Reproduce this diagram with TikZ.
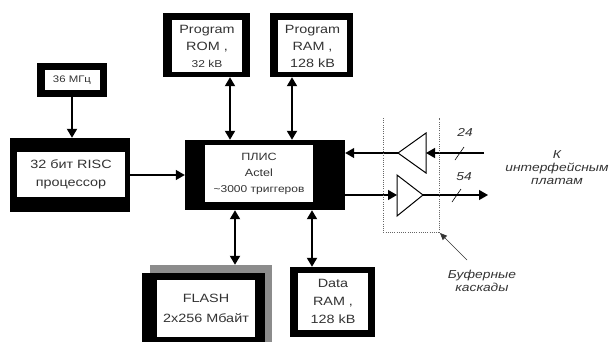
\documentclass[tikz,border=0pt]{standalone}
\usepackage{fontspec}
\setmainfont{Liberation Sans}[FakeStretch=1.2]
\usetikzlibrary{arrows.meta,calc}
\begin{document}
\begin{tikzpicture}[x=1pt,y=-1pt,
  outer/.style={fill=black,draw=none,inner sep=0pt,minimum width=#1},
  inner/.style={fill=white,draw=none,inner sep=0pt,align=center,text=black!80},
  conn/.style={line width=1.8pt,-{Triangle[length=9pt,width=10pt]}},
  dconn/.style={line width=1.8pt,{Triangle[length=9pt,width=10pt]}-{Triangle[length=9pt,width=10pt]}},
  bconn/.style={line width=1.2pt,-{Triangle[length=9pt,width=10pt]}},
  lbl/.style={font=\itshape\fontsize{11.5}{13}\selectfont,text=black!80,align=center,inner sep=0pt}]
\useasboundingbox (0,0) rectangle (615,341);
% 36 MHz
\node[outer=70pt,minimum height=34pt] (mhz) at (72,80) {};
\node[inner,minimum width=55pt,minimum height=20pt,font=\fontsize{9.5}{11}\selectfont] (mhzt) at (72,80) {36 МГц};
% RISC
\node[outer=120pt,minimum height=74pt] (risc) at (70,175) {};
\node[inner,minimum width=108pt,minimum height=45pt,font=\fontsize{12}{18}\selectfont] (risct) at (71,174.5) {32 бит RISC\\процессор};
% Program ROM
\node[outer=87pt,minimum height=64pt] (rom) at (206.5,45) {};
\node[inner,minimum width=70pt,minimum height=52pt,font=\fontsize{12}{17}\selectfont] (romt) at (207,46) {Program\\ROM ,\\{\fontsize{10}{17}\selectfont 32 kB}};
% Program RAM
\node[outer=83pt,minimum height=64pt] (ram) at (311.5,45) {};
\node[inner,minimum width=69pt,minimum height=52pt,font=\fontsize{12}{17}\selectfont] (ramt) at (312.5,46) {Program\\RAM ,\\128 kB};
% FPGA
\node[outer=160pt,minimum height=70pt] (fpga) at (265,175) {};
\node[inner,minimum width=108pt,minimum height=57pt,font=\fontsize{10.5}{16}\selectfont] (fpgat) at (259,173.5) {ПЛИС\\{\fontsize{10.5}{16}\selectfont Actel}\\{\fontsize{10}{15}\selectfont \textasciitilde3000 триггеров}};
% FLASH
\node[fill=black!45,draw=none,inner sep=0pt,minimum width=122pt,minimum height=80pt] (flashsh) at (211,305) {};
\node[outer=123pt,minimum height=72pt] (flash) at (203.5,309) {};
\node[inner,minimum width=98pt,minimum height=57pt,font=\fontsize{12}{20}\selectfont] (flasht) at (206,308.5) {FLASH\\2x256 Мбайт};
% Data RAM
\node[outer=85pt,minimum height=70pt] (dram) at (332.5,302) {};
\node[inner,minimum width=70pt,minimum height=57pt,font=\fontsize{12}{18}\selectfont] (dramt) at (333,301.5) {Data\\RAM ,\\128 kB};
% connectors
\draw[conn] (mhz.south) -- (mhz.south |- risc.north);
\draw[line width=1.3pt,-{Triangle[length=9pt,width=10pt]}] (risc.east) -- (fpga.west);
\draw[dconn] ([xshift=23.5pt]rom.south) -- ([xshift=23.5pt]rom.south |- fpga.north);
\draw[dconn] ([xshift=-19.5pt]ram.south) -- ([xshift=-19.5pt]ram.south |- fpga.north);
\draw[dconn] ([xshift=-30pt]fpga.south) -- ([xshift=-30pt]fpga.south |- flashsh.north);
\draw[dconn] ([xshift=47pt]fpga.south) -- ([xshift=47pt]fpga.south |- dram.north);
% buffers
\coordinate (t1tip) at (398,153);
\coordinate (t1base) at (426,153);
\coordinate (in24) at (484,153);
\coordinate (t2base) at (397,195);
\coordinate (t2tip) at (423,195);
\coordinate (out54) at (488,195);
\draw[line width=1pt,fill=white] (t1tip) -- (426,133) -- (426,173) -- cycle;
\draw[line width=1pt,fill=white] (t2tip) -- (397,175) -- (397,216) -- cycle;
\draw[bconn] (in24) -- (t1base);
\draw[bconn] (t1tip) -- (t1tip -| fpga.east);
\draw[bconn] (t2base -| fpga.east) -- (t2base);
\draw[bconn] (t2tip) -- (out54);
\draw[line width=0.6pt] (455,160) -- (464,147);
\draw[line width=0.6pt] (452,202) -- (461,189);
\node[lbl] (n24) at (465,132) {24};
\node[lbl] (n54) at (464,177) {54};
% dashed group
\draw[black!60,line width=0.8pt,dash pattern=on 1pt off 1.2pt on 1pt off 1.2pt] (383,118) -- (383,232) -- (439,232) -- (439,118);
\coordinate (corner) at (440,233);
\node[lbl] (buf) at (482,281) {Буферные\\каскады};
\draw[line width=0.6pt,black!80,-{Triangle[length=7pt,width=6pt]}] (467,260) -- (corner);
\node[lbl] (kint) at (557,168) {К\\интерфейсным\\платам};
\end{tikzpicture}
\end{document}
